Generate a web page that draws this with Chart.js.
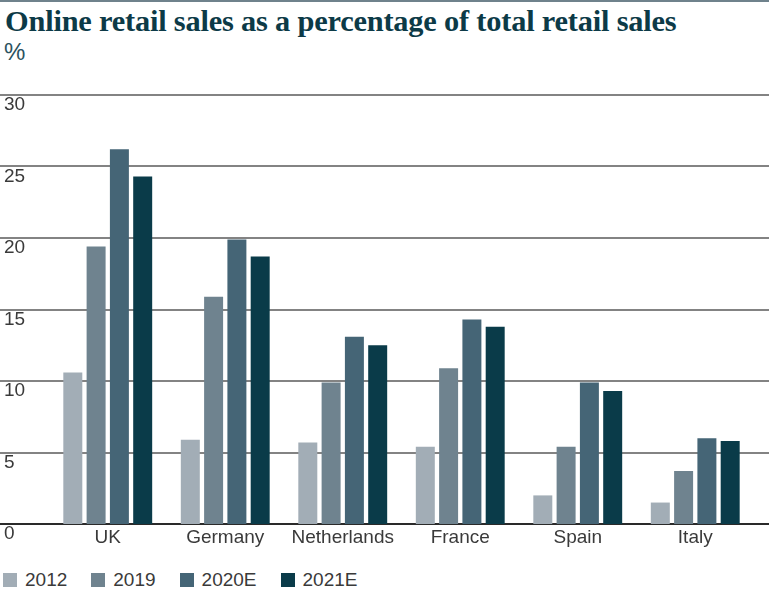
<!DOCTYPE html>
<html>
<head>
<meta charset="utf-8">
<script src="https://cdn.jsdelivr.net/npm/chart.js@4"></script>
<style>
  body { margin: 0; width: 769px; height: 593px; overflow: hidden; background: #fff;
         border-top: 2px solid #6f828c; box-sizing: border-box; position: relative; }
  #title { position: absolute; left: 5px; top: 2px; font: bold 30.4px "Liberation Serif", serif;
           color: #0c3a47; white-space: nowrap; letter-spacing: -0.2px; }
  #unit { position: absolute; left: 4px; top: 36px; font: 24px "Liberation Sans", sans-serif; color: #2b5260; }
  #wrap { position: absolute; left: 0; top: 78px; width: 769px; height: 471px; }
  #legend { position: absolute; left: 3px; top: 567px; display: flex; font: 19px "Liberation Sans", sans-serif; color: #3a3a3a; }
  #legend .item { display: flex; align-items: center; margin-right: 24px; }
  #legend .box { width: 14px; height: 14px; margin-right: 8px; }
</style>
</head>
<body>
<div id="title">Online retail sales as a percentage of total retail sales</div>
<div id="unit">%</div>
<div id="wrap"><canvas id="myChart"></canvas></div>
<div id="legend"></div>
<script>
const countries = ["UK", "Germany", "Netherlands", "France", "Spain", "Italy"];
const seriesNames = ["2012", "2019", "2020E", "2021E"];
const sales2012 = [10.6, 5.9, 5.7, 5.4, 2.0, 1.5];
const sales2019 = [19.4, 15.9, 9.9, 10.9, 5.4, 3.7];
const sales2020E = [26.2, 19.9, 13.1, 14.3, 9.9, 6.0];
const sales2021E = [24.3, 18.7, 12.5, 13.8, 9.3, 5.8];
const yTicks = [0, 5, 10, 15, 20, 25, 30];

const colors = ["#a2adb6", "#6f838f", "#456576", "#0a3b49"];
const values = [sales2012, sales2019, sales2020E, sales2021E];

// full-width gridlines behind the bars
const fullGrid = {
  id: "fullGrid",
  beforeDatasetsDraw(chart) {
    const ctx = chart.ctx;
    const y = chart.scales.y;
    ctx.save();
    yTicks.forEach(function (v) {
      const py = Math.round(y.getPixelForValue(v));
      ctx.beginPath();
      ctx.strokeStyle = v === 0 ? "#2a2a2a" : "#5a5a5a";
      ctx.lineWidth = v === 0 ? 2 : 1.6;
      ctx.moveTo(0, py);
      ctx.lineTo(chart.width, py);
      ctx.stroke();
    });
    ctx.restore();
  },
};

var ctx = document.getElementById("myChart").getContext("2d");
var chart = new Chart(ctx, {
  type: "bar",
  data: {
    labels: countries,
    datasets: seriesNames.map(function (name, i) {
      return {
        label: name,
        data: values[i],
        backgroundColor: colors[i],
        categoryPercentage: 0.793,
        barPercentage: 0.815,
      };
    }),
  },
  options: {
    responsive: true,
    maintainAspectRatio: false,
    animation: false,
    layout: { padding: { left: 4, right: 15, top: 15, bottom: 0 } },
    plugins: {
      legend: { display: false },
      tooltip: { enabled: false },
    },
    scales: {
      x: {
        grid: { display: false, drawTicks: false },
        border: { display: false },
        ticks: {
          color: "#3a3a3a",
          font: { family: "Liberation Sans", size: 19 },
          padding: 2,
          maxRotation: 0,
        },
        afterFit: function (scale) { scale.height = 27; },
      },
      y: {
        min: 0,
        max: 30,
        afterBuildTicks: function (scale) {
          scale.ticks = yTicks.map(function (v) { return { value: v }; });
        },
        grid: { display: false, drawTicks: false },
        border: { display: false },
        ticks: {
          color: "#3a3a3a",
          font: { family: "Liberation Sans", size: 19 },
          crossAlign: "far",
          labelOffset: 10,
          padding: 0,
        },
        afterFit: function (scale) { scale.width = 45; },
      },
    },
  },
  plugins: [fullGrid],
});

// legend
var legend = document.getElementById("legend");
seriesNames.forEach(function (name, i) {
  var item = document.createElement("div");
  item.className = "item";
  item.innerHTML = '<span class="box" style="background:' + colors[i] + '"></span>' + name;
  legend.appendChild(item);
});
</script>
</body>
</html>
